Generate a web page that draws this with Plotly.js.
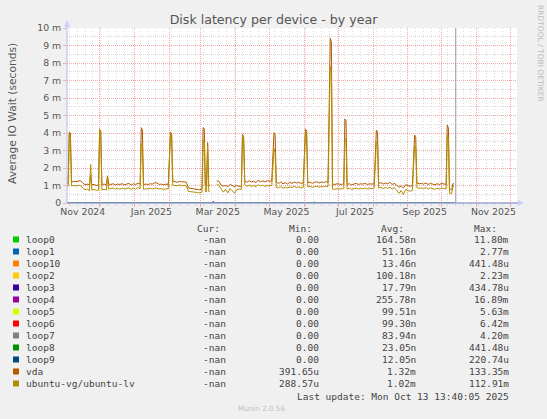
<!DOCTYPE html>
<html>
<head>
<meta charset="utf-8">
<script src="https://cdn.plot.ly/plotly-3.0.1.min.js"></script>
<style>
  html, body { margin: 0; padding: 0; background: #F0F0F0; }
  #graph { width: 547px; height: 419px; }
</style>
</head>
<body>
<div id="graph"></div>
<script>
// daily samples (values in ms)
const days = [
  '2024-11-02','2024-11-03','2024-11-04','2024-11-05','2024-11-06','2024-11-08','2024-11-10','2024-11-12','2024-11-14','2024-11-16',
  '2024-11-18','2024-11-20','2024-11-22','2024-11-23','2024-11-24','2024-11-26','2024-11-28','2024-11-30',
  '2024-12-01','2024-12-02','2024-12-03','2024-12-05','2024-12-07','2024-12-08','2024-12-09','2024-12-11','2024-12-13','2024-12-15',
  '2024-12-17','2024-12-19','2024-12-21','2024-12-23','2024-12-25','2024-12-27','2024-12-29','2024-12-31',
  '2025-01-02','2025-01-04','2025-01-06','2025-01-07','2025-01-08','2025-01-09','2025-01-11','2025-01-13','2025-01-15','2025-01-17',
  '2025-01-19','2025-01-21','2025-01-23','2025-01-25','2025-01-27','2025-01-29','2025-01-31',
  '2025-02-02','2025-02-03','2025-02-04','2025-02-06','2025-02-08','2025-02-10','2025-02-12','2025-02-14','2025-02-16','2025-02-18',
  '2025-02-20','2025-02-22','2025-02-24','2025-02-26','2025-02-28',
  '2025-03-02','2025-03-03','2025-03-04','2025-03-05','2025-03-06','2025-03-07','2025-03-08','2025-03-09','2025-03-10',
  '2025-03-15','2025-03-17','2025-03-19','2025-03-21','2025-03-23','2025-03-25','2025-03-27','2025-03-29','2025-03-31',
  '2025-04-02','2025-04-04','2025-04-06','2025-04-07','2025-04-08','2025-04-09','2025-04-11','2025-04-13','2025-04-15','2025-04-17',
  '2025-04-19','2025-04-21','2025-04-23','2025-04-25','2025-04-27','2025-04-29',
  '2025-05-01','2025-05-03','2025-05-05','2025-05-06','2025-05-07','2025-05-09','2025-05-11','2025-05-13','2025-05-15','2025-05-17',
  '2025-05-19','2025-05-21','2025-05-23','2025-05-25','2025-05-27','2025-05-29','2025-05-31',
  '2025-06-02','2025-06-03','2025-06-04','2025-06-06','2025-06-08','2025-06-10','2025-06-12','2025-06-14','2025-06-16','2025-06-18',
  '2025-06-20','2025-06-22','2025-06-24','2025-06-25','2025-06-26','2025-06-28','2025-06-30',
  '2025-07-02','2025-07-04','2025-07-06','2025-07-07','2025-07-08','2025-07-09','2025-07-11','2025-07-13','2025-07-15','2025-07-17',
  '2025-07-19','2025-07-21','2025-07-23','2025-07-25','2025-07-27','2025-07-29','2025-07-31',
  '2025-08-02','2025-08-04','2025-08-05','2025-08-06','2025-08-08','2025-08-10','2025-08-12','2025-08-14','2025-08-16','2025-08-18',
  '2025-08-20','2025-08-22','2025-08-24','2025-08-26','2025-08-28','2025-08-30',
  '2025-09-01','2025-09-03','2025-09-05','2025-09-07','2025-09-08','2025-09-09','2025-09-11','2025-09-13','2025-09-15','2025-09-17',
  '2025-09-19','2025-09-21','2025-09-23','2025-09-25','2025-09-27','2025-09-29',
  '2025-10-01','2025-10-03','2025-10-05','2025-10-06','2025-10-07','2025-10-08','2025-10-10','2025-10-11','2025-10-12'
];

const vda = [
  1.12,1.10,4.05,4.00,1.20,1.24,1.22,1.26,1.28,1.14,
  1.05,1.08,1.02,1.60,1.04,1.06,1.00,1.04,
  4.20,4.10,1.06,1.08,1.04,1.55,1.08,1.06,1.10,1.04,
  1.08,1.06,1.10,1.04,1.08,1.12,1.02,1.10,
  1.06,1.12,1.08,4.30,4.20,1.05,1.08,1.06,1.10,1.08,
  1.16,1.14,1.06,1.08,1.04,1.08,1.06,
  4.05,3.95,1.26,1.22,1.18,1.24,1.20,1.22,1.18,0.86,
  0.84,0.85,0.82,0.78,0.75,
  0.82,4.30,4.25,1.00,1.00,3.45,1.00,0.98,null,
  1.26,1.24,1.02,0.96,1.00,0.94,1.06,0.98,0.93,
  1.00,0.95,0.96,3.92,3.80,1.26,1.18,1.28,1.20,1.24,
  1.16,1.30,1.22,1.26,1.20,1.28,
  1.24,1.26,4.02,3.90,1.18,1.12,1.20,1.10,1.16,1.08,
  1.18,1.12,1.20,1.14,1.18,1.12,1.16,
  4.23,4.10,1.15,1.20,1.12,1.18,1.22,1.14,1.20,1.16,
  1.22,1.18,9.41,9.20,1.08,1.06,1.10,
  1.08,1.06,1.10,4.80,4.70,1.06,1.10,1.04,1.08,1.12,
  1.06,1.10,1.08,1.12,1.06,1.10,1.08,
  1.10,4.17,4.05,1.12,1.16,1.08,1.14,1.10,1.18,1.06,
  1.12,1.02,0.90,0.98,0.86,1.04,
  1.00,0.96,0.98,3.89,3.75,1.14,1.10,1.12,1.08,1.14,
  1.06,1.12,1.08,1.04,1.10,1.06,
  1.12,1.08,1.06,4.46,4.30,0.80,0.76,1.10,1.10
];

const ubuntuLv = [
  0.97,0.96,3.95,3.80,0.98,1.00,0.97,1.01,0.99,0.85,
  0.76,0.80,0.70,2.20,0.74,0.78,0.72,0.75,
  4.15,3.95,0.76,0.78,0.74,1.50,0.80,0.82,0.86,0.80,
  0.84,0.78,0.85,0.80,0.82,0.86,0.78,0.84,
  0.80,0.88,0.82,3.40,3.30,0.78,0.80,0.82,0.84,0.80,
  0.86,0.84,0.80,0.82,0.78,0.82,0.80,
  4.00,3.80,1.02,1.00,0.98,1.03,0.99,1.00,0.98,0.66,
  0.65,0.66,0.62,0.60,0.58,
  0.62,3.60,3.50,0.66,0.64,3.30,0.66,0.64,null,
  1.05,1.02,0.80,0.62,0.78,0.58,0.82,0.70,0.56,
  0.76,0.80,0.78,3.85,3.60,1.03,0.96,1.02,0.95,1.00,
  0.94,1.04,0.98,1.02,0.95,1.00,
  0.98,1.01,3.10,2.90,0.90,0.86,0.94,0.84,0.90,0.86,
  0.92,0.88,0.95,0.88,0.92,0.86,0.90,
  4.10,3.90,0.92,0.95,0.90,0.94,0.96,0.90,0.95,0.92,
  0.96,0.94,7.80,7.50,0.80,0.78,0.82,
  0.80,0.80,0.82,3.70,3.60,0.80,0.84,0.78,0.82,0.86,
  0.80,0.84,0.82,0.86,0.80,0.84,0.82,
  0.85,3.50,3.40,0.86,0.90,0.82,0.88,0.84,0.90,0.80,
  0.86,0.74,0.55,0.70,0.48,0.78,
  0.70,0.68,0.72,3.30,3.10,0.88,0.84,0.86,0.82,0.88,
  0.80,0.86,0.82,0.78,0.84,0.80,
  0.86,0.82,0.80,3.90,3.70,0.56,0.54,0.96,0.95
];

// loop devices sit on zero all year, with two tiny blips
const loopDays = ['2024-11-02', '2025-10-13'];
const loopFlat = [0, 0];
const loop4Days = ['2024-11-02', '2025-03-11', '2025-03-12', '2025-03-13', '2025-10-13'];
const loop4Vals = [0, 0, 0.1, 0, 0];
const loop0Days = ['2024-11-02', '2025-06-09', '2025-06-10', '2025-06-11', '2025-10-13'];
const loop0Vals = [0, 0, 0.08, 0, 0];

// legend table
const names = ['loop0','loop1','loop10','loop2','loop3','loop4','loop5','loop6','loop7','loop8','loop9','vda','ubuntu-vg/ubuntu-lv'];
const colors = ['#00CC00','#0066B3','#FF8000','#FFCC00','#330099','#990099','#CCFF00','#FF0000','#808080','#008F00','#00487D','#B35A00','#B38F00'];
const curVals = ['-nan','-nan','-nan','-nan','-nan','-nan','-nan','-nan','-nan','-nan','-nan','-nan','-nan'];
const minVals = ['0.00','0.00','0.00','0.00','0.00','0.00','0.00','0.00','0.00','0.00','0.00','391.65u','288.57u'];
const avgVals = ['164.58n','51.16n','13.46n','100.18n','17.79n','255.78n','99.51n','99.30n','83.94n','23.05n','12.05n','1.32m','1.02m'];
const maxVals = ['11.80m','2.77m','441.48u','2.23m','434.78u','16.89m','5.63m','6.42m','4.20m','441.48u','220.74u','133.35m','112.91m'];

const yTicks = [0,1,2,3,4,5,6,7,8,9,10];
const yLabels = ['0','1 m','2 m','3 m','4 m','5 m','6 m','7 m','8 m','9 m','10 m'];
const labelDays = ['2024-11-16','2025-01-16','2025-03-16','2025-05-16','2025-07-16','2025-09-16','2025-11-16'];
const labelText = ['Nov 2024','Jan 2025','Mar 2025','May 2025','Jul 2025','Sep 2025','Nov 2025'];
const lastUpdate = '2025-10-13 13:40';

// plot area in pixels
const L = 67, R = 517, T = 28, B = 203;
function px(x) { return (x - L) / (R - L); }
function py(y) { return (B - y) / (B - T); }

// loops on the grid axis (x), disks on the label axis (x2): same range
const traces = [];
for (let i = 0; i < 11; i++) {
  let x = loopDays, y = loopFlat;
  if (names[i] === 'loop4') { x = loop4Days; y = loop4Vals; }
  if (names[i] === 'loop0') { x = loop0Days; y = loop0Vals; }
  traces.push({ x: x, y: y, mode: 'lines', name: names[i], line: { color: colors[i], width: 1 } });
}
traces.push({ x: days, y: vda, xaxis: 'x2', mode: 'lines', name: 'vda', line: { color: colors[11], width: 1 } });
traces.push({ x: days, y: ubuntuLv, xaxis: 'x2', mode: 'lines', name: 'ubuntu-vg/ubuntu-lv', line: { color: colors[12], width: 1 } });

const axisFont = { family: 'DejaVu Sans', size: 9.33, color: '#555' };
const mono = { family: 'DejaVu Sans Mono', size: 9.5, color: '#444' };

const annotations = [];
function txt(text, x, y, xanchor, font, extra) {
  annotations.push(Object.assign({
    text: text, xref: 'paper', yref: 'paper', x: px(x), y: py(y),
    xanchor: xanchor, yanchor: 'middle', showarrow: false, font: font, borderpad: 0
  }, extra || {}));
}

txt('Average IO Wait (seconds)', 12, 114, 'center', { family: 'DejaVu Sans', size: 10.7, color: '#555' }, { textangle: -90 });
txt('RRDTOOL / TOBI OETIKER', 541, 53, 'center', { family: 'DejaVu Sans', size: 7.5, color: '#bbb' }, { textangle: 90 });

txt('Cur:', 221, 228, 'right', mono);
txt('Min:', 313, 228, 'right', mono);
txt('Avg:', 405, 228, 'right', mono);
txt('Max:', 498, 228, 'right', mono);

const shapes = [];
for (let i = 0; i < names.length; i++) {
  const y = 239.5 + 12 * i;
  shapes.push({ type: 'rect', xref: 'paper', yref: 'paper', x0: px(13), x1: px(19), y0: py(y - 3), y1: py(y + 3),
    fillcolor: colors[i], line: { width: 0 } });
  txt(names[i], 25, y, 'left', mono);
  txt(curVals[i], 227, y, 'right', mono);
  txt(minVals[i], 320, y, 'right', mono);
  txt(avgVals[i], 417, y, 'right', mono);
  txt(maxVals[i], 510, y, 'right', mono);
}
txt('Last update: Mon Oct 13 13:40:05 2025', 510, 396, 'right', mono);
txt('Munin 2.0.56', 261, 408, 'center', { family: 'DejaVu Sans', size: 7.2, color: '#c0c0c0' });

// "now" marker and axis arrows
shapes.push({ type: 'line', xref: 'x', yref: 'paper', x0: lastUpdate, x1: lastUpdate, y0: 0, y1: 1,
  line: { color: '#999', width: 1 }, layer: 'above' });
shapes.push({ type: 'line', xref: 'paper', yref: 'paper', x0: px(67), x1: px(520), y0: 0, y1: 0,
  line: { color: '#9aa2d2', width: 1.5 }, layer: 'above' });
shapes.push({ type: 'line', xref: 'paper', yref: 'paper', x0: 0, x1: 0, y0: 0, y1: py(24),
  line: { color: '#b4bce6', width: 1 }, layer: 'above' });
shapes.push({ type: 'path', xref: 'paper', yref: 'paper',
  path: 'M ' + px(518) + ' ' + py(200) + ' L ' + px(524) + ' ' + py(203) + ' L ' + px(518) + ' ' + py(206) + ' Z',
  fillcolor: '#c8d0f8', line: { width: 0 }, layer: 'above' });
shapes.push({ type: 'path', xref: 'paper', yref: 'paper',
  path: 'M ' + px(64) + ' ' + py(27) + ' L ' + px(67) + ' ' + py(20) + ' L ' + px(70) + ' ' + py(27) + ' Z',
  fillcolor: '#c8d0f8', line: { width: 0 }, layer: 'above' });

const xRange = ['2024-11-02', '2025-12-07'];

const layout = {
  width: 547,
  height: 419,
  margin: { l: L, r: 547 - R, t: T, b: 419 - B, pad: 0 },
  paper_bgcolor: '#F0F0F0',
  plot_bgcolor: '#FFFFFF',
  showlegend: false,
  title: {
    text: 'Disk latency per device - by year',
    xref: 'paper', x: px(273.5), xanchor: 'center',
    yref: 'container', y: 1 - 19.5 / 419, yanchor: 'middle',
    font: { family: 'DejaVu Sans', size: 12.6, color: '#555' }
  },
  xaxis: {
    type: 'date',
    range: xRange,
    tickmode: 'linear',
    tick0: '2024-12-01',
    dtick: 'M1',
    showticklabels: false,
    ticks: 'outside',
    ticklen: 3,
    tickcolor: '#f0b0b0',
    showgrid: true,
    gridcolor: '#f0a8a8',
    griddash: '1px,1px',
    zeroline: false,
    showline: false,
    fixedrange: true,
    minor: {
      dtick: 7 * 86400000,
      tick0: '2024-11-04',
      showgrid: true,
      gridcolor: '#dcdcdc',
      griddash: '1px,2px',
      ticks: 'outside',
      ticklen: 2,
      tickcolor: '#d4d4d4'
    }
  },
  xaxis2: {
    type: 'date',
    overlaying: 'x',
    anchor: 'y',
    side: 'bottom',
    range: xRange,
    tickmode: 'array',
    tickvals: labelDays,
    ticktext: labelText,
    ticks: '',
    ticklabelstandoff: 2,
    showgrid: false,
    zeroline: false,
    showline: false,
    fixedrange: true,
    tickfont: axisFont
  },
  yaxis: {
    range: [0, 10],
    tickmode: 'array',
    tickvals: yTicks,
    ticktext: yLabels,
    tickfont: axisFont,
    ticks: 'outside',
    ticklen: 3,
    tickcolor: '#f0b0b0',
    showgrid: true,
    gridcolor: '#f0a8a8',
    griddash: '1px,1px',
    zeroline: false,
    showline: false,
    fixedrange: true,
    minor: {
      dtick: 0.5,
      showgrid: true,
      gridcolor: '#d8d8d8',
      griddash: '1px,1px'
    }
  },
  shapes: shapes,
  annotations: annotations
};

Plotly.newPlot('graph', traces, layout, { displayModeBar: false, staticPlot: true });
</script>
</body>
</html>
